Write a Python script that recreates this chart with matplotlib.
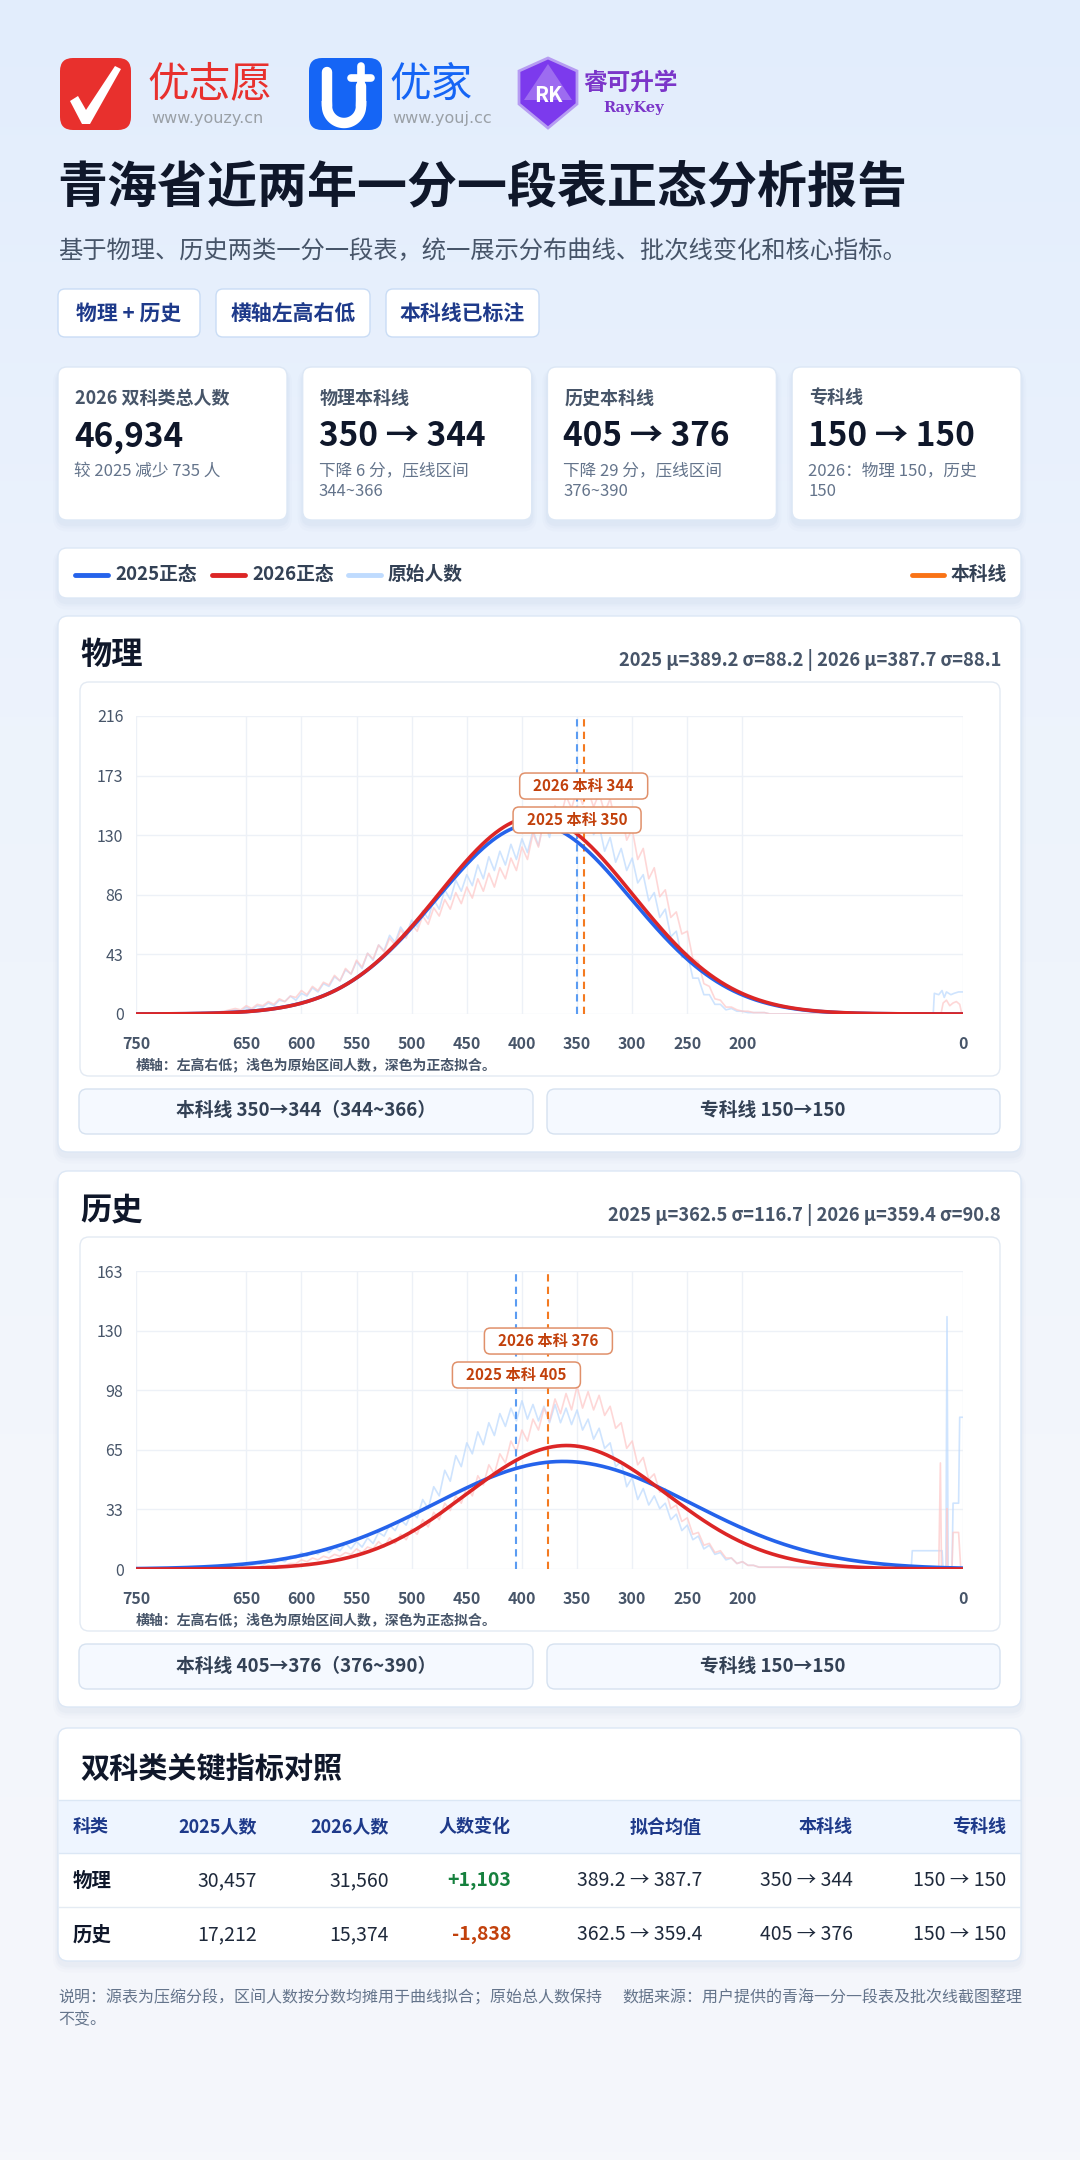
"""
青海省近两年一分一段表正态分析报告 - static report card
Layout is done in pixel units on a full-figure background axes,
the two distribution charts are real axes placed on top.
"""

import numpy as np
import matplotlib
matplotlib.use("Agg")
import matplotlib.pyplot as plt
from matplotlib.patches import FancyBboxPatch, Polygon
from matplotlib.colors import LinearSegmentedColormap

plt.rcParams['font.family'] = ['Noto Sans CJK SC', 'DejaVu Sans']

W, H = 1080, 2160

# ---------------- data ----------------
subjects = ['物理', '历史']
count_2025 = [30457, 17212]
count_2026 = [31560, 15374]
mu_2025 = [389.2, 362.5]
sd_2025 = [88.2, 116.7]
mu_2026 = [387.7, 359.4]
sd_2026 = [88.1, 90.8]
line_2025 = [350, 405]          # 本科线
line_2026 = [344, 376]
press_range = ['344~366', '376~390']
zk_2025 = [150, 150]            # 专科线
zk_2026 = [150, 150]
y_max = [216, 163]

x_ticks = [750, 650, 600, 550, 500, 450, 400, 350, 300, 250, 200, 0]

# raw counts per score, head / core / tail
head_scores = [750, 700, 690, 680, 670, 665]
core_scores = list(range(660, 165, -5))

p25_head = [0, 0, 1, 1, 2, 2]
p25_core = [3, 2, 5, 3, 6, 5, 8, 6, 10, 9,
            13, 10, 15, 13, 19, 16, 22, 20, 27, 24,
            32, 29, 38, 33, 44, 39, 50, 46, 57, 52,
            63, 57, 68, 63, 75, 69, 83, 76, 90, 83,
            97, 89, 101, 93, 108, 98, 114, 104, 118, 108,
            123, 112, 127, 117, 133, 122, 140, 128, 145, 133,
            150, 137, 151, 136, 147, 130, 137, 118, 128, 110,
            120, 104, 113, 95, 101, 82, 88, 70, 76, 56,
            60, 41, 44, 26, 26, 14, 14, 7, 7, 3,
            4, 2, 2, 1, 1, 1, 1, 0, 0]
p25_tail_s = [160, 100, 27, 26, 22, 19, 17, 15, 11, 8, 4, 0]
p25_tail_v = [0, 0, 0, 15, 14, 17, 12, 16, 14, 15, 16, 16]

p26_head = [0, 0, 1, 1, 2, 3]
p26_core = [4, 3, 6, 4, 7, 6, 9, 7, 11, 9,
            13, 12, 17, 14, 20, 17, 23, 21, 28, 24,
            33, 29, 39, 34, 44, 40, 50, 45, 55, 50,
            61, 55, 65, 60, 71, 65, 77, 71, 83, 76,
            88, 80, 92, 84, 98, 89, 102, 92, 106, 98,
            113, 104, 121, 112, 131, 121, 141, 132, 151, 142,
            158, 149, 163, 152, 162, 150, 160, 146, 156, 138,
            146, 126, 134, 112, 120, 98, 106, 85, 90, 70,
            74, 58, 60, 40, 38, 22, 20, 11, 10, 5,
            5, 3, 2, 2, 1, 1, 1, 0, 0]
p26_tail_s = [160, 100, 20, 18, 15, 12, 9, 6, 3, 1, 0]
p26_tail_v = [0, 0, 0, 8, 10, 6, 8, 9, 7, 0, 0]

h25_head = [0, 0, 0, 1, 1, 1]
h25_core = [1, 1, 2, 2, 3, 2, 4, 3, 5, 4,
            7, 6, 9, 7, 10, 8, 11, 9, 12, 10,
            14, 11, 15, 12, 17, 14, 20, 18, 24, 21,
            27, 24, 31, 28, 38, 33, 45, 40, 54, 48,
            62, 56, 69, 63, 75, 68, 80, 73, 85, 78,
            88, 81, 92, 82, 90, 81, 89, 80, 90, 80,
            88, 79, 87, 76, 82, 71, 77, 66, 69, 56,
            59, 45, 50, 38, 44, 35, 40, 33, 36, 27,
            30, 21, 24, 16, 18, 11, 13, 8, 9, 5,
            6, 3, 4, 2, 2, 1, 1, 1, 1]
h25_tail_s = [160, 120, 60, 47, 46, 19, 18, 15.5, 14.5, 13.5, 10, 9, 4, 3, 0]
h25_tail_v = [1, 1, 0, 0, 10, 10, 0, 0, 138, 0, 0, 36, 36, 83, 83]

h26_head = [0, 0, 0, 0, 0, 0]
h26_core = [0, 0, 1, 1, 1, 1, 2, 1, 2, 2,
            3, 3, 5, 4, 6, 5, 7, 6, 8, 7,
            9, 8, 11, 9, 12, 11, 15, 12, 17, 14,
            19, 16, 22, 19, 27, 23, 31, 27, 36, 32,
            40, 36, 45, 40, 51, 46, 57, 52, 63, 58,
            70, 64, 76, 70, 82, 76, 88, 81, 93, 85,
            96, 87, 100, 88, 97, 87, 95, 84, 89, 77,
            80, 66, 70, 57, 61, 49, 52, 42, 44, 33,
            35, 26, 28, 19, 20, 13, 14, 9, 10, 6,
            6, 3, 4, 2, 2, 1, 1, 1, 1]
h26_tail_s = [160, 120, 60, 22, 20.5, 19.5, 17, 15, 14.5, 14, 10, 9, 4, 2, 0]
h26_tail_v = [1, 0, 0, 0, 58, 0, 0, 0, 33, 0, 0, 20, 20, 0, 0]

raw = [
    ((head_scores + core_scores + p25_tail_s, p25_head + p25_core + p25_tail_v),
     (head_scores + core_scores + p26_tail_s, p26_head + p26_core + p26_tail_v)),
    ((head_scores + core_scores + h25_tail_s, h25_head + h25_core + h25_tail_v),
     (head_scores + core_scores + h26_tail_s, h26_head + h26_core + h26_tail_v)),
]

# colours
C_BLUE = '#2563eb'
C_RED = '#dc2626'
C_RAW_B = '#bfdbfe'
C_RAW_R = '#fecaca'
C_ORANGE = '#f97316'
C_DARK = '#0f172a'
C_TEXT = '#334155'
C_GRAY = '#475569'
C_MUTED = '#64748b'
C_BORDER = '#d7e4f4'


fig = plt.figure(figsize=(W / 100, H / 100), dpi=100)
bg = fig.add_axes([0, 0, 1, 1])
bg.set_xlim(0, W)
bg.set_ylim(H, 0)
bg.axis('off')

grad = np.linspace(0, 1, 256).reshape(-1, 1)
cmap = LinearSegmentedColormap.from_list('bgc', ['#e2edfc', '#edf3fc', '#f3f6fb', '#f5f7fb'])
bg.imshow(grad, extent=[0, W, H, 0], aspect='auto', cmap=cmap, zorder=0)


def rbox(x, y, w, h, r=8, fc='white', ec=C_BORDER, lw=1.0, z=2, ax=None, tr=None):
    p = FancyBboxPatch((x, y), w, h, boxstyle=f"round,pad=0,rounding_size={r}",
                       fc=fc, ec=ec, lw=lw, zorder=z)
    if tr is not None:
        p.set_transform(tr)
        p.set_clip_on(False)
    (ax or bg).add_patch(p)
    return p


def card(x, y, w, h, r=10):
    # soft shadow + white card
    for k, a in [(10, 0.018), (6, 0.025), (3, 0.03)]:
        sh = rbox(x - k / 2, y - k / 4 + 4, w + k, h + k, r=r + k / 2, fc='#5b7bb0', ec='none', z=1.5)
        sh.set_alpha(a)
    rbox(x, y, w, h, r=r, fc='white', ec='#dce7f5', z=2)


def txt(x, y, s, size, color=C_DARK, weight='normal', ha='left', z=5, **kw):
    bg.text(x, y, s, fontsize=size, color=color, fontweight=weight, ha=ha, va='center', zorder=z, **kw)


# ---------------- logos ----------------
rbox(60, 58, 71, 72, r=13, fc='#e8302d', ec='none', z=3)
bg.add_patch(Polygon([(70, 101), (78, 96), (86, 110), (115, 66), (121, 69), (90, 124), (82, 124)],
                     closed=True, fc='white', ec='none', zorder=4))
txt(147, 85, '优志愿', 30, color='#e8302d')
txt(151, 119, 'www.youzy.cn', 11.5, color='#9aa0a6', family=['DejaVu Sans'])

rbox(309, 58, 73, 72, r=13, fc='#1565f5', ec='none', z=3)
arc = np.linspace(0, np.pi, 40)
bg.plot([327, 327], [72, 106], color='white', lw=7.5, solid_capstyle='round', zorder=4)
bg.plot(344 - 17 * np.cos(arc), 106 + 17 * np.sin(arc), color='white', lw=7.5, zorder=4)
bg.plot([361, 361], [106, 86], color='white', lw=7.5, solid_capstyle='round', zorder=4)
bg.plot([361, 361], [66, 90], color='white', lw=5.5, solid_capstyle='round', zorder=4)
bg.plot([351, 371], [78, 78], color='white', lw=5.5, solid_capstyle='round', zorder=4)
txt(389, 85, '优家', 30, color='#1565f5')
txt(392, 119, 'www.youj.cc', 11.5, color='#9aa0a6', family=['DejaVu Sans'])

bg.add_patch(Polygon([(548, 58), (577, 71), (577, 104), (548, 128), (519, 104), (519, 71)],
                     closed=True, fc='#7c3aed', ec='#b69cf2', lw=2, zorder=3))
bg.add_patch(Polygon([(548, 64), (572, 100), (524, 100)], closed=True, fc='#9d6cf0', ec='none', zorder=3.5))
txt(548, 95, 'RK', 15, color='white', weight='bold', ha='center', z=4)
txt(583, 83, '睿可升学', 17, color='#7b35c9', weight='bold')
txt(634, 108, 'RayKey', 10.5, color='#7b35c9', weight='bold', ha='center', family=['DejaVu Serif'])

# ---------------- title ----------------
txt(57, 189, '青海省近两年一分一段表正态分析报告', 36, weight='bold')
txt(58, 251, '基于物理、历史两类一分一段表，统一展示分布曲线、批次线变化和核心指标。', 17.5, color=C_GRAY)

for tx, tw, s in [(58, 142, '物理 + 历史'), (216, 154, '横轴左高右低'), (386, 153, '本科线已标注')]:
    rbox(tx, 289, tw, 48, r=7, fc='white', ec='#c9dcf5', z=3)
    txt(tx + tw / 2, 313, s, 15, color='#1e3a8a', weight='bold', ha='center')

# ---------------- KPI cards ----------------
total_25 = sum(count_2025)
total_26 = sum(count_2026)
kpis = [
    ('2026 双科类总人数', f'{total_26:,}', [f'较 2025 减少 {total_25 - total_26:,} 人']),
    ('物理本科线', f'{line_2025[0]} → {line_2026[0]}',
     [f'下降 {line_2025[0] - line_2026[0]} 分，压线区间', press_range[0]]),
    ('历史本科线', f'{line_2025[1]} → {line_2026[1]}',
     [f'下降 {line_2025[1] - line_2026[1]} 分，压线区间', press_range[1]]),
    ('专科线', f'{zk_2025[0]} → {zk_2026[0]}', [f'2026：物理 {zk_2026[0]}，历史', f'{zk_2026[1]}']),
]
for i, (lab, big, subs) in enumerate(kpis):
    cx = 58 + i * 244.7
    card(cx, 367, 229, 153, r=9)
    txt(cx + 17, 398, lab, 13, color=C_GRAY, weight='bold')
    txt(cx + 16, 437, big, 24, weight='bold')
    for j, s in enumerate(subs):
        txt(cx + 16, 471 + j * 21, s, 12, color=C_MUTED)

# ---------------- legend bar ----------------
card(58, 548, 963, 50, r=9)
for x0, c, s in [(75, C_BLUE, '2025正态'), (212, C_RED, '2026正态'), (348, C_RAW_B, '原始人数')]:
    bg.plot([x0, x0 + 33], [575, 575], color=c, lw=3.5, solid_capstyle='round', zorder=4)
    txt(x0 + 40, 574, s, 13.5, color=C_TEXT, weight='bold')
bg.plot([912, 944], [575, 575], color=C_ORANGE, lw=3.5, solid_capstyle='round', zorder=4)
txt(951, 574, '本科线', 13.5, color=C_TEXT, weight='bold')

# ---------------- subject charts ----------------
s_grid = np.arange(0, 751)

for k, subj in enumerate(subjects):
    oy = k * 555
    card(58, 616 + oy, 963, 536, r=10)
    txt(80, 655 + oy, subj, 22.5, weight='bold')
    txt(1001, 660 + oy,
        f'2025 μ={mu_2025[k]} σ={sd_2025[k]} | 2026 μ={mu_2026[k]} σ={sd_2026[k]}',
        13.2, color=C_GRAY, weight='bold', ha='right')
    rbox(80, 682 + oy, 920, 394, r=9, fc='white', ec='#e3eaf3', z=3)
    txt(136, 1066 + oy, '横轴：左高右低；浅色为原始区间人数，深色为正态拟合。', 10, color=C_GRAY, weight='bold')

    rbox(79, 1089 + oy, 454, 45, r=8, fc='#f5f9ff', ec='#d6e2f0', z=3)
    txt(306, 1111 + oy, f'本科线 {line_2025[k]}→{line_2026[k]}（{press_range[k]}）', 13.5,
        color=C_TEXT, weight='bold', ha='center')
    rbox(547, 1089 + oy, 453, 45, r=8, fc='#f5f9ff', ec='#d6e2f0', z=3)
    txt(773, 1111 + oy, f'专科线 {zk_2025[k]}→{zk_2026[k]}', 13.5, color=C_TEXT, weight='bold', ha='center')

    ax = fig.add_axes([136 / W, 1 - (1014 + oy) / H, 827 / W, 298 / H])
    ax.set_facecolor('none')
    ax.set_xlim(750, 0)
    ax.set_ylim(0, y_max[k])
    yt = np.linspace(0, y_max[k], 6)
    ax.set_yticks(yt)
    ax.set_yticklabels([f'{v:.0f}' for v in yt], fontsize=11.5, color=C_GRAY)
    ax.set_xticks(x_ticks)
    ax.set_xticklabels([str(v) for v in x_ticks], fontsize=11.5, color=C_GRAY, fontweight='bold')
    ax.tick_params(axis='y', length=0, pad=9)
    ax.tick_params(axis='x', length=0, pad=16)
    ax.grid(True, color='#edf1f7', lw=1.0, zorder=0)
    for sp in ax.spines.values():
        sp.set_visible(False)

    (sb, vb), (sr, vr) = raw[k]
    ax.plot(sb, vb, color=C_RAW_B, lw=1.2, alpha=0.75, zorder=2)
    ax.plot(sr, vr, color=C_RAW_R, lw=1.2, alpha=0.75, zorder=2.1)

    ax.axvline(line_2025[k], color='#5b9cf2', lw=1.5, ls=(0, (3.5, 2.5)), zorder=2.5)
    ax.axvline(line_2026[k], color='#f47a20', lw=1.5, ls=(0, (3.5, 2.5)), zorder=2.5)

    fit25 = count_2025[k] / (sd_2025[k] * np.sqrt(2 * np.pi)) * np.exp(-0.5 * ((s_grid - mu_2025[k]) / sd_2025[k]) ** 2)
    fit26 = count_2026[k] / (sd_2026[k] * np.sqrt(2 * np.pi)) * np.exp(-0.5 * ((s_grid - mu_2026[k]) / sd_2026[k]) ** 2)
    ax.plot(s_grid, fit25, color=C_BLUE, lw=2.6, zorder=3, solid_capstyle='round')
    ax.plot(s_grid, fit26, color=C_RED, lw=2.6, zorder=3.2, solid_capstyle='round')

    # line labels, boxes sized in pixels, placed via the axis scale
    for score, frac, lab in [(line_2026[k], 0.765, f'2026 本科 {line_2026[k]}'),
                             (line_2025[k], 0.651, f'2025 本科 {line_2025[k]}')]:
        dx = ax.transData.transform((score, 0))[0]
        dy = ax.transAxes.transform((0, frac))[1]
        bx, by = bg.transData.inverted().transform((dx, dy))
        rbox(bx - 64, by - 13, 128, 26, r=6, fc='white', ec='#e0906a', lw=1.1, z=6, ax=ax, tr=bg.transData)
        ax.text(bx, by, lab, transform=bg.transData, fontsize=11, color='#c2410c', fontweight='bold',
                ha='center', va='center', zorder=7, clip_on=False)

# ---------------- table ----------------
card(58, 1728, 963, 233, r=10)
txt(80, 1769, '双科类关键指标对照', 21, weight='bold')
bg.add_patch(plt.Rectangle((59, 1800), 961, 53, fc='#eef5ff', ec='none', zorder=3))
bg.plot([59, 1020], [1800, 1800], color='#dbe7f5', lw=1, zorder=4)
bg.plot([59, 1020], [1853, 1853], color='#dbe7f5', lw=1, zorder=4)
bg.plot([59, 1020], [1907, 1907], color='#e4ebf3', lw=1, zorder=4)

headers = ['科类', '2025人数', '2026人数', '人数变化', '拟合均值', '本科线', '专科线']
col_x = [73, 257, 389, 511, 702, 853, 1006]
for j, hname in enumerate(headers):
    txt(col_x[j], 1827, hname, 13, color='#1e3a8a', weight='bold', ha='left' if j == 0 else 'right')

for k, subj in enumerate(subjects):
    ry = 1881 + k * 54
    diff = count_2026[k] - count_2025[k]
    txt(col_x[0], ry, subj, 14, weight='bold')
    txt(col_x[1], ry, f'{count_2025[k]:,}', 14, color='#1e293b', ha='right')
    txt(col_x[2], ry, f'{count_2026[k]:,}', 14, color='#1e293b', ha='right')
    txt(col_x[3], ry, f'{diff:+,}', 14, color='#15803d' if diff > 0 else '#c2410c', weight='bold', ha='right')
    txt(col_x[4], ry, f'{mu_2025[k]} → {mu_2026[k]}', 14, color='#1e293b', ha='right')
    txt(col_x[5], ry, f'{line_2025[k]} → {line_2026[k]}', 14, color='#1e293b', ha='right')
    txt(col_x[6], ry, f'{zk_2025[k]} → {zk_2026[k]}', 14, color='#1e293b', ha='right')

# ---------------- footnote ----------------
txt(58, 1998, '说明：源表为压缩分段，区间人数按分数均摊用于曲线拟合；原始总人数保持', 11.5, color=C_MUTED)
txt(58, 2020, '不变。', 11.5, color=C_MUTED)
txt(622, 1998, '数据来源：用户提供的青海一分一段表及批次线截图整理', 11.5, color=C_MUTED)

fig.savefig('out.png', dpi=100)
